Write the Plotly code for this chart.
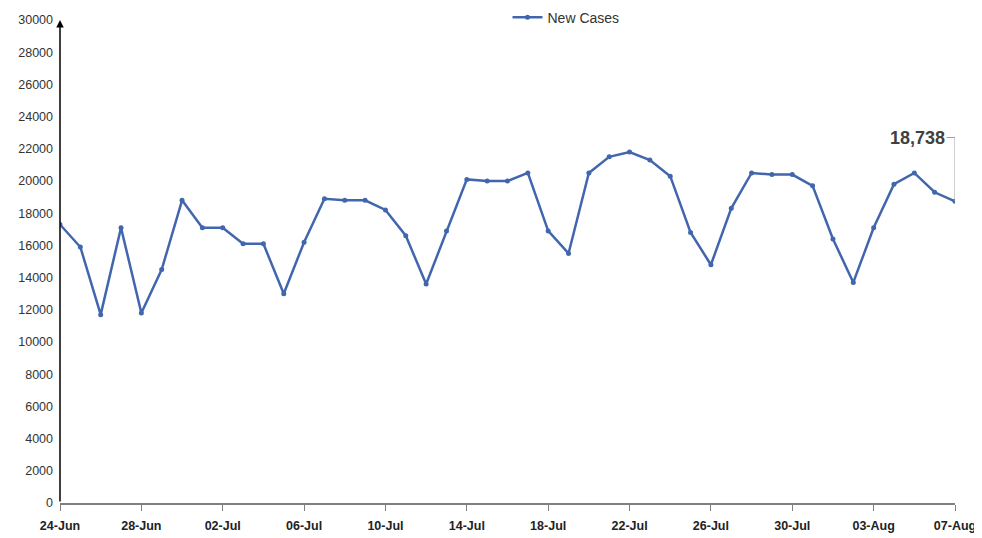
import plotly.graph_objects as go
import pandas as pd

dates = pd.date_range("2020-06-24", "2020-08-07", freq="D")
new_cases = [17300, 15900, 11700, 17100, 11800, 14500, 18800, 17100, 17100, 16100,
             16100, 13000, 16200, 18900, 18800, 18800, 18200, 16600, 13600, 16900,
             20100, 20000, 20000, 20500, 16900, 15500, 20500, 21500, 21800, 21300,
             20300, 16800, 14800, 18300, 20500, 20400, 20400, 19700, 16400, 13700,
             17100, 19800, 20500, 19300, 18738]
y_ticks = list(range(0, 30001, 2000))
label_text = "18,738"

font_fam = "Liberation Sans, Arial, sans-serif"
blue = "#4266AE"

fig = go.Figure()
fig.add_trace(go.Scatter(
    x=dates, y=new_cases, mode="lines+markers", name="New Cases",
    line=dict(color=blue, width=2.5),
    marker=dict(color=blue, size=5),
))

# y-axis arrow
fig.add_annotation(x=dates[0], y=30000, ax=dates[0], ay=0, xref="x", yref="y",
                   axref="x", ayref="y", showarrow=True, arrowhead=2, arrowsize=1,
                   arrowwidth=1.5, arrowcolor="black", text="")
# leader line for last value
lab_y = 22700
fig.add_shape(type="line", xref="x", yref="y", x0=dates[-1], x1=dates[-1],
              y0=new_cases[-1], y1=lab_y, line=dict(color="#A0A0A0", width=1))
fig.add_shape(type="line", xref="x", yref="y", x0=dates[-2] + pd.Timedelta(hours=14), x1=dates[-1],
              y0=lab_y, y1=lab_y, line=dict(color="#A0A0A0", width=1))
fig.add_annotation(x=dates[-2] + pd.Timedelta(hours=14), y=lab_y, xref="x", yref="y",
                   text="<b>" + label_text + "</b>", showarrow=False, xanchor="right", yanchor="middle",
                   font=dict(family=font_fam, size=18, color="#404040"))

fig.update_layout(
    width=982, height=538,
    margin=dict(l=52, r=35, t=12, b=43, autoexpand=False),
    plot_bgcolor="white", paper_bgcolor="white",
    font=dict(family=font_fam, size=13, color="#333333"),
    showlegend=True,
    legend=dict(x=0.5, y=1.005, xanchor="left", yanchor="middle", orientation="h",
                itemwidth=30,
                font=dict(family=font_fam, size=14, color="#333333"),
                bgcolor="rgba(0,0,0,0)"),
    xaxis=dict(
        range=[dates[0], dates[-1]], type="date",
        tickmode="linear", tick0=dates[0], dtick=4 * 86400000,
        tickformat="%d-%b", showgrid=False, zeroline=False,
        showline=True, linecolor="#808080", linewidth=1.5,
        ticks="outside", ticklen=6, tickcolor="#808080",
        automargin=False, ticklabelstandoff=4,
        tickfont=dict(family=font_fam, size=12.5, color="#222222", weight="bold"),
    ),
    yaxis=dict(
        range=[0, 30000], tickvals=y_ticks, ticktext=[str(v) for v in y_ticks],
        showgrid=False, zeroline=False, showline=False, ticks="",
        automargin=False, ticklabelstandoff=6,
        tickfont=dict(family=font_fam, size=12.5, color="#333333"),
    ),
)

fig.write_html("out.html")
